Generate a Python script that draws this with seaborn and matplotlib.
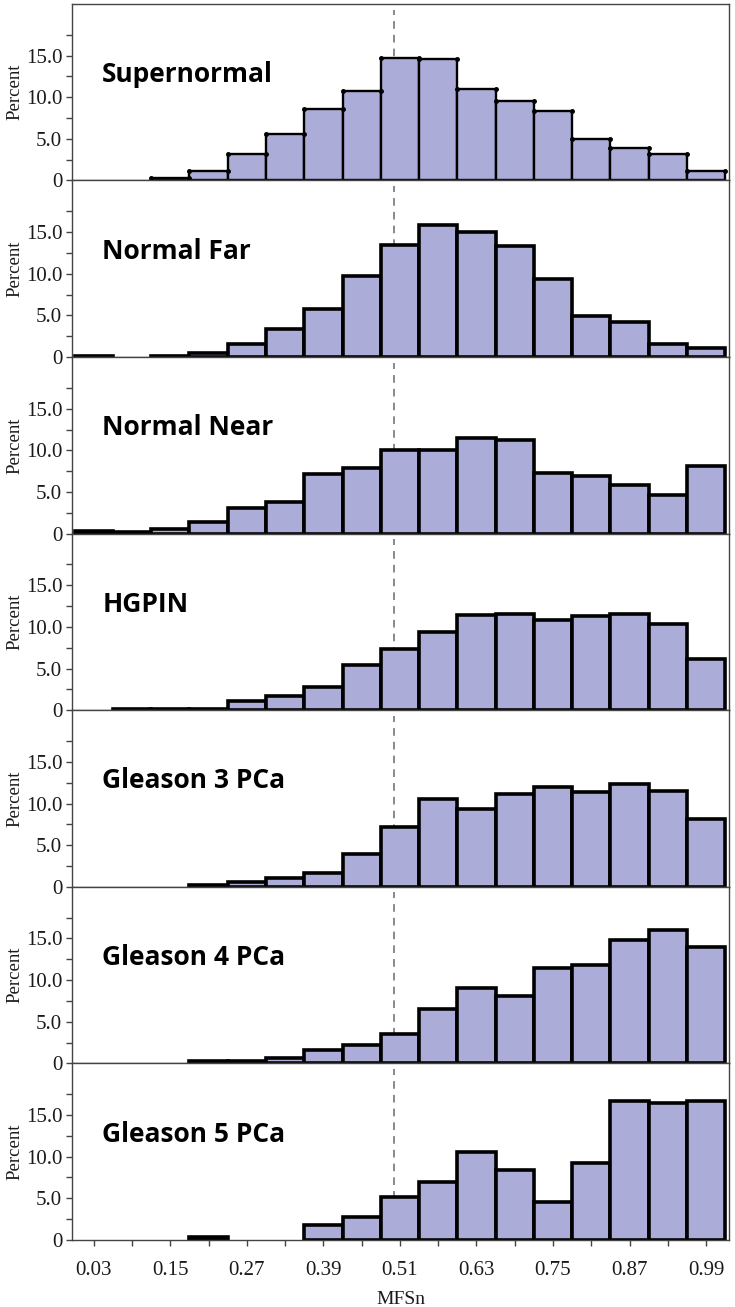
import numpy as np
import pandas as pd
import matplotlib
matplotlib.use("Agg")
import matplotlib.pyplot as plt
import seaborn as sns
from matplotlib.ticker import FixedLocator, FixedFormatter

# ---------------- data ----------------
bin_centers = [0.03, 0.09, 0.15, 0.21, 0.27, 0.33, 0.39, 0.45, 0.51,
               0.57, 0.63, 0.69, 0.75, 0.81, 0.87, 0.93, 0.99]
bin_width = 0.06

groups = ["Supernormal", "Normal Far", "Normal Near", "HGPIN",
          "Gleason 3 PCa", "Gleason 4 PCa", "Gleason 5 PCa"]

supernormal = [0, 0, 0.3, 1.1, 3.2, 5.6, 8.6, 10.7, 14.7, 14.6, 11.0, 9.6, 8.3, 5.0, 3.9, 3.2, 1.2]
normal_far  = [0.15, 0, 0.15, 0.5, 1.6, 3.4, 5.8, 9.7, 13.5, 15.8, 15.0, 13.3, 9.4, 4.9, 4.2, 1.6, 1.1]
normal_near = [0.3, 0.2, 0.6, 1.4, 3.1, 3.8, 7.2, 7.9, 10.1, 10.1, 11.5, 11.2, 7.3, 6.9, 5.8, 4.6, 8.1]
hgpin       = [0, 0.1, 0.1, 0.1, 1.1, 1.7, 2.8, 5.4, 7.3, 9.4, 11.4, 11.5, 10.8, 11.3, 11.5, 10.3, 6.2]
gleason3    = [0, 0, 0, 0.2, 0.6, 1.0, 1.6, 3.9, 7.2, 10.5, 9.4, 11.2, 12.0, 11.4, 12.4, 11.5, 8.1]
gleason4    = [0, 0, 0, 0.3, 0.3, 0.6, 1.6, 2.2, 3.5, 6.5, 9.1, 8.1, 11.5, 11.8, 14.8, 16.0, 14.0]
gleason5    = [0, 0, 0, 0.3, 0, 0, 1.8, 2.8, 5.1, 6.9, 10.5, 8.4, 4.6, 9.2, 16.7, 16.4, 16.7]

series = [supernormal, normal_far, normal_near, hgpin, gleason3, gleason4, gleason5]

xtick_labels = ["0.03", "0.15", "0.27", "0.39", "0.51", "0.63", "0.75", "0.87", "0.99"]
ytick_major = [0, 5, 10, 15]
ytick_labels = ["0", "5.0", "10.0", "15.0"]
ytick_minor = [2.5, 7.5, 12.5, 17.5]
threshold = 0.5

# ---------------- style ----------------
sns.set_style("ticks")
plt.rcParams["font.family"] = ["Liberation Serif", "DejaVu Serif"]
plt.rcParams["text.color"] = "#1a1a1a"
plt.rcParams["axes.labelcolor"] = "#1a1a1a"
plt.rcParams["xtick.labelcolor"] = "#1a1a1a"
plt.rcParams["ytick.labelcolor"] = "#1a1a1a"

bar_color = "#ACACD8"
spine_color = "#444444"

edges = [round(bin_centers[0] - bin_width / 2, 4)] + \
        [round(c + bin_width / 2, 4) for c in bin_centers]

fig, axes = plt.subplots(7, 1, figsize=(7.35, 13.07), dpi=100, sharex=True)
fig.subplots_adjust(left=0.098, right=0.992, top=0.997, bottom=0.0513, hspace=0)

for i, (ax, name, vals) in enumerate(zip(axes, groups, series)):
    df = pd.DataFrame({"MFSn": bin_centers, "Percent": vals})
    lw = 1.7 if i == 0 else 2.6
    sns.histplot(data=df, x="MFSn", weights="Percent", bins=edges, ax=ax,
                 color=bar_color, edgecolor="black", linewidth=lw,
                 alpha=1, stat="count", zorder=2)
    for p in ax.patches:
        if p.get_height() <= 0:
            p.set_visible(False)
    if i == 0:
        xs, ys = [], []
        for c, v in zip(bin_centers, vals):
            if v > 0:
                xs += [c - bin_width / 2, c + bin_width / 2]
                ys += [v, v]
        ax.plot(xs, ys, linestyle="none", marker="o", markersize=2.5,
                color="black", zorder=3)
    ax.axvline(threshold, ymin=0, ymax=0.968, color="#6a6a6a",
               linestyle=(0, (5, 4)), linewidth=1.1, zorder=1)

    ax.set_xlim(-0.004, 1.026)
    ax.set_ylim(0, 21.2)
    ax.yaxis.set_major_locator(FixedLocator(ytick_major + ytick_minor))
    ax.yaxis.set_major_formatter(FixedFormatter(ytick_labels + [""] * len(ytick_minor)))
    ax.tick_params(axis="y", direction="out", length=4, width=1,
                   color=spine_color, labelsize=15, pad=3)
    for s in ax.spines.values():
        s.set_visible(True)
        s.set_color(spine_color)
        s.set_linewidth(1.0)
    ax.set_ylabel("Percent", fontsize=13.5)
    ax.yaxis.set_label_coords(-0.074, 0.5)
    ax.set_xlabel("")
    ax.text(0.046, 0.60, name, transform=ax.transAxes, ha="left", va="center",
            fontsize=19, fontweight="bold", color="black",
            family=["Open Sans", "DejaVu Sans"], zorder=5)
    if i < 6:
        ax.tick_params(axis="x", bottom=False, labelbottom=False)

bottom = axes[-1]
bottom.set_xticks(bin_centers)
lbls = []
k = 0
for j, c in enumerate(bin_centers):
    if j % 2 == 0:
        lbls.append(xtick_labels[k]); k += 1
    else:
        lbls.append("")
bottom.set_xticklabels(lbls)
bottom.tick_params(axis="x", bottom=True, labelbottom=True, direction="out",
                   length=4, width=1, color=spine_color, labelsize=15, pad=11)
bottom.set_xlabel("MFSn", fontsize=14)
bottom.xaxis.set_label_coords(0.5, -0.29)

fig.savefig("out.png", dpi=100)
